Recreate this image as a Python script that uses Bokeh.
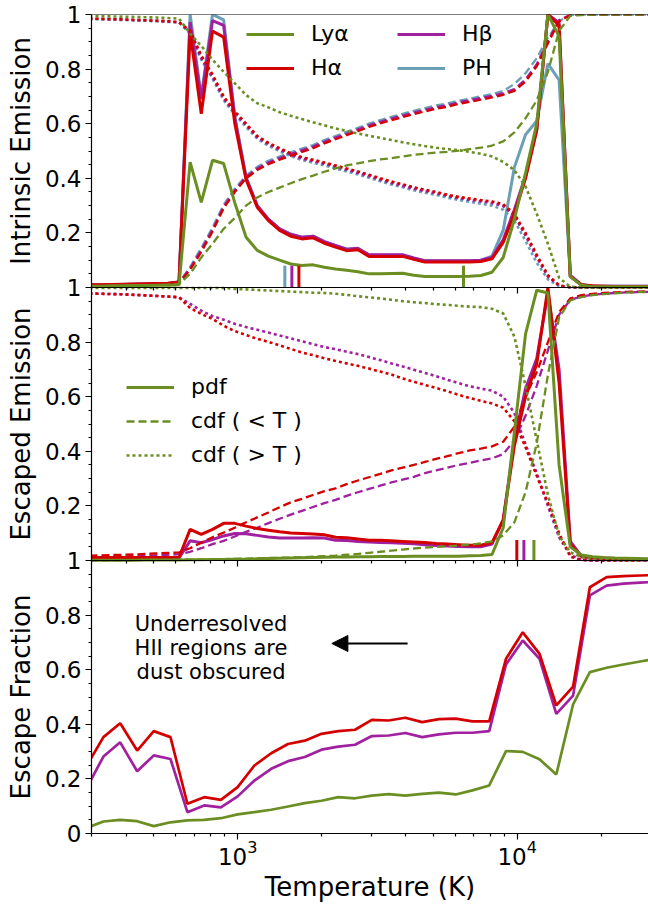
from bokeh.plotting import figure
from bokeh.models import (Range1d, LinearAxis, LogAxis, FixedTicker, Legend, LegendItem, Label,
                          Arrow, NormalHead, Span, CustomJSTickFormatter, ColumnDataSource)
from bokeh.embed import file_html
from bokeh.resources import INLINE

# ---------------- data ----------------
# temperature grid of the intrinsic / escaped panels (K)
T_FINE = [295, 324, 355, 389, 427, 468, 513, 562, 617, 676, 741, 813, 891, 977, 1072, 1175,
          1288, 1413, 1549, 1698, 1862, 2042, 2239, 2455, 2692, 2951, 3236, 3548, 3890, 4266,
          4677, 5129, 5623, 6166, 6761, 7413, 8128, 8913, 9772, 10715, 11749, 12882, 14125,
          15488, 16982, 18621, 20417, 22387, 24547, 26915, 29512]
# temperature grid of the escape-fraction panel (K)
T_COARSE = [288, 331, 380, 437, 501, 575, 661, 759, 871, 1000, 1148, 1318, 1514, 1738, 1995,
            2291, 2630, 3020, 3467, 3981, 4571, 5248, 6026, 6918, 7943, 9120, 10471, 12023,
            13804, 15849, 18197, 20893, 23988, 27542, 31623]

# Intrinsic emission: pdf
I1_PH = [0.009, 0.009, 0.010, 0.011, 0.012, 0.013, 0.014, 0.015, 0.02, 1.0, 0.70, 1.0, 0.98,
         0.625, 0.405, 0.30, 0.25, 0.215, 0.195, 0.184, 0.188, 0.168, 0.153, 0.14, 0.142,
         0.118, 0.118, 0.118, 0.118, 0.107, 0.097, 0.097, 0.097, 0.097, 0.097, 0.10, 0.115,
         0.21, 0.44, 0.56, 0.61, 0.82, 0.76, 0.04, 0.01, 0.005, 0.005, 0.005, 0.005, 0.005, 0.005]
I1_HB = [0.009, 0.009, 0.010, 0.011, 0.012, 0.013, 0.014, 0.015, 0.02, 0.972, 0.69, 0.978, 0.96,
         0.62, 0.40, 0.30, 0.25, 0.215, 0.195, 0.184, 0.188, 0.168, 0.154, 0.14, 0.144, 0.12,
         0.12, 0.12, 0.12, 0.108, 0.098, 0.098, 0.098, 0.098, 0.098, 0.10, 0.11, 0.175, 0.285,
         0.41, 0.58, 1.0, 0.97, 0.045, 0.01, 0.005, 0.005, 0.005, 0.005, 0.005, 0.005]
I1_HA = [0.010, 0.010, 0.011, 0.012, 0.013, 0.014, 0.015, 0.016, 0.02, 0.935, 0.636, 0.939,
         0.917, 0.60, 0.395, 0.294, 0.245, 0.209, 0.188, 0.178, 0.182, 0.162, 0.148, 0.135,
         0.138, 0.114, 0.114, 0.114, 0.114, 0.103, 0.093, 0.093, 0.093, 0.093, 0.093, 0.095,
         0.105, 0.165, 0.27, 0.40, 0.575, 1.0, 0.96, 0.04, 0.01, 0.006, 0.005, 0.004, 0.004,
         0.004, 0.004]
I1_LYA = [0.005, 0.005, 0.006, 0.006, 0.007, 0.007, 0.008, 0.008, 0.01, 0.459, 0.312, 0.466,
          0.454, 0.31, 0.184, 0.136, 0.115, 0.100, 0.086, 0.081, 0.083, 0.074, 0.068, 0.063,
          0.058, 0.050, 0.050, 0.051, 0.052, 0.045, 0.040, 0.040, 0.040, 0.040, 0.041, 0.044,
          0.056, 0.11, 0.25, 0.42, 0.60, 1.0, 0.92, 0.04, 0.008, 0.003, 0.003, 0.003, 0.003,
          0.003, 0.003]
# Intrinsic emission: cdf (<T)
I1_PH_LT = [0.002, 0.003, 0.005, 0.006, 0.008, 0.010, 0.012, 0.014, 0.018, 0.075, 0.145, 0.22,
            0.303, 0.362, 0.41, 0.442, 0.464, 0.48, 0.495, 0.509, 0.522, 0.54, 0.555, 0.57,
            0.585, 0.6, 0.613, 0.625, 0.636, 0.647, 0.657, 0.667, 0.674, 0.684, 0.692, 0.70,
            0.708, 0.72, 0.745, 0.785, 0.84, 0.915, 0.975, 0.998, 1, 1, 1, 1, 1, 1, 1]
I1_HB_LT = [0.002, 0.003, 0.005, 0.006, 0.008, 0.010, 0.012, 0.014, 0.017, 0.07, 0.137, 0.212,
            0.296, 0.356, 0.405, 0.436, 0.458, 0.474, 0.489, 0.503, 0.516, 0.534, 0.549, 0.564,
            0.579, 0.594, 0.607, 0.619, 0.63, 0.641, 0.651, 0.661, 0.668, 0.678, 0.686, 0.694,
            0.702, 0.712, 0.727, 0.762, 0.818, 0.902, 0.98, 0.998, 1, 1, 1, 1, 1, 1, 1]
I1_HA_LT = [0.002, 0.003, 0.005, 0.006, 0.008, 0.010, 0.012, 0.014, 0.016, 0.065, 0.13, 0.205,
            0.29, 0.35, 0.40, 0.43, 0.452, 0.468, 0.483, 0.497, 0.51, 0.528, 0.543, 0.558,
            0.573, 0.588, 0.601, 0.613, 0.624, 0.635, 0.645, 0.655, 0.662, 0.672, 0.68, 0.688,
            0.696, 0.706, 0.72, 0.755, 0.81, 0.895, 0.975, 0.997, 1, 1, 1, 1, 1, 1, 1]
I1_LYA_LT = [0.003, 0.004, 0.005, 0.006, 0.007, 0.008, 0.009, 0.010, 0.012, 0.05, 0.11, 0.16,
             0.215, 0.255, 0.30, 0.33, 0.35, 0.366, 0.382, 0.397, 0.41, 0.424, 0.436, 0.447,
             0.455, 0.463, 0.469, 0.474, 0.48, 0.486, 0.49, 0.494, 0.497, 0.501, 0.507, 0.512,
             0.52, 0.535, 0.568, 0.62, 0.685, 0.79, 0.94, 0.995, 0.998, 1, 1, 1, 1, 1, 1]
# Intrinsic emission: cdf (>T)
I1_PH_GT = [0.983, 0.982, 0.981, 0.980, 0.978, 0.977, 0.975, 0.973, 0.970, 0.93, 0.835, 0.765,
            0.686, 0.633, 0.588, 0.545, 0.519, 0.499, 0.481, 0.467, 0.457, 0.447, 0.436, 0.425,
            0.414, 0.402, 0.389, 0.377, 0.367, 0.356, 0.347, 0.339, 0.329, 0.321, 0.314, 0.307,
            0.30, 0.285, 0.245, 0.17, 0.09, 0.03, 0.005, 0, 0, 0, 0, 0, 0, 0, 0]
I1_HB_GT = [0.985, 0.984, 0.983, 0.982, 0.980, 0.979, 0.977, 0.975, 0.972, 0.935, 0.84, 0.772,
            0.693, 0.64, 0.595, 0.55, 0.525, 0.505, 0.487, 0.472, 0.463, 0.453, 0.442, 0.431,
            0.42, 0.408, 0.395, 0.383, 0.373, 0.362, 0.353, 0.345, 0.335, 0.327, 0.321, 0.315,
            0.309, 0.298, 0.262, 0.19, 0.11, 0.04, 0.007, 0.001, 0, 0, 0, 0, 0, 0, 0]
I1_HA_GT = [0.985, 0.984, 0.983, 0.982, 0.980, 0.979, 0.977, 0.975, 0.972, 0.94, 0.85, 0.78,
            0.70, 0.645, 0.60, 0.555, 0.53, 0.51, 0.492, 0.477, 0.468, 0.458, 0.447, 0.436,
            0.425, 0.413, 0.40, 0.388, 0.378, 0.367, 0.358, 0.35, 0.34, 0.332, 0.326, 0.32,
            0.315, 0.305, 0.27, 0.20, 0.12, 0.045, 0.008, 0.001, 0, 0, 0, 0, 0, 0, 0]
I1_LYA_GT = [0.995, 0.994, 0.993, 0.992, 0.991, 0.99, 0.989, 0.987, 0.985, 0.93, 0.885, 0.835,
             0.79, 0.748, 0.705, 0.675, 0.66, 0.642, 0.629, 0.617, 0.605, 0.594, 0.583, 0.573,
             0.564, 0.556, 0.548, 0.54, 0.532, 0.525, 0.518, 0.512, 0.507, 0.503, 0.497, 0.49,
             0.48, 0.46, 0.43, 0.37, 0.27, 0.16, 0.035, 0.003, 0, 0, 0, 0, 0, 0, 0]

# Escaped emission: pdf
E_HB = [0.008, 0.008, 0.008, 0.008, 0.008, 0.008, 0.008, 0.008, 0.009, 0.072, 0.065, 0.077,
        0.09, 0.099, 0.098, 0.092, 0.086, 0.082, 0.082, 0.082, 0.083, 0.082, 0.074, 0.073,
        0.07, 0.068, 0.066, 0.065, 0.063, 0.061, 0.058, 0.055, 0.053, 0.051, 0.05, 0.05, 0.06,
        0.15, 0.44, 0.63, 0.74, 0.98, 0.70, 0.07, 0.016, 0.01, 0.006, 0.005, 0.004, 0.004, 0.003]
E_HA = [0.011, 0.011, 0.011, 0.011, 0.011, 0.011, 0.011, 0.011, 0.012, 0.114, 0.096, 0.114,
        0.136, 0.136, 0.126, 0.117, 0.111, 0.105, 0.101, 0.099, 0.097, 0.094, 0.085, 0.083,
        0.079, 0.074, 0.074, 0.072, 0.070, 0.068, 0.066, 0.062, 0.060, 0.058, 0.056, 0.056,
        0.066, 0.148, 0.42, 0.60, 0.72, 1.0, 0.65, 0.06, 0.015, 0.01, 0.008, 0.006, 0.005,
        0.004, 0.004]
E_LYA = [0.001, 0.001, 0.001, 0.001, 0.001, 0.002, 0.002, 0.002, 0.002, 0.003, 0.003, 0.004,
         0.004, 0.005, 0.005, 0.006, 0.007, 0.008, 0.009, 0.01, 0.011, 0.012, 0.013, 0.013,
         0.014, 0.014, 0.015, 0.015, 0.015, 0.016, 0.016, 0.016, 0.016, 0.016, 0.017, 0.018,
         0.022, 0.12, 0.47, 0.83, 0.99, 0.98, 0.35, 0.05, 0.02, 0.014, 0.011, 0.009, 0.008,
         0.007, 0.006]
# Escaped emission: cdf (<T)
E_HB_LT = [0.012, 0.013, 0.014, 0.015, 0.016, 0.017, 0.019, 0.021, 0.023, 0.032, 0.045, 0.06,
           0.072, 0.088, 0.105, 0.12, 0.137, 0.153, 0.168, 0.182, 0.196, 0.21, 0.222, 0.237,
           0.25, 0.262, 0.274, 0.286, 0.296, 0.306, 0.32, 0.33, 0.34, 0.35, 0.358, 0.366,
           0.374, 0.39, 0.44, 0.53, 0.64, 0.77, 0.90, 0.955, 0.967, 0.973, 0.977, 0.98, 0.982,
           0.983, 0.984]
E_HA_LT = [0.018, 0.019, 0.020, 0.021, 0.022, 0.024, 0.026, 0.028, 0.03, 0.045, 0.065, 0.085,
           0.102, 0.12, 0.14, 0.158, 0.176, 0.195, 0.213, 0.226, 0.24, 0.254, 0.264, 0.28,
           0.293, 0.305, 0.317, 0.33, 0.34, 0.35, 0.361, 0.372, 0.382, 0.393, 0.403, 0.41,
           0.418, 0.435, 0.49, 0.60, 0.69, 0.80, 0.91, 0.96, 0.972, 0.977, 0.98, 0.982, 0.984,
           0.985, 0.986]
E_LYA_LT = [0.0, 0.0, 0.001, 0.001, 0.001, 0.002, 0.002, 0.002, 0.003, 0.003, 0.004, 0.004,
            0.005, 0.006, 0.007, 0.008, 0.009, 0.01, 0.011, 0.012, 0.014, 0.016, 0.018, 0.021,
            0.024, 0.028, 0.032, 0.036, 0.04, 0.044, 0.047, 0.05, 0.052, 0.055, 0.058, 0.063,
            0.07, 0.092, 0.14, 0.25, 0.43, 0.68, 0.89, 0.953, 0.965, 0.972, 0.976, 0.979, 0.981,
            0.983, 0.984]
# Escaped emission: cdf (>T)
E_HB_GT = [0.978, 0.977, 0.976, 0.975, 0.973, 0.971, 0.969, 0.967, 0.964, 0.94, 0.915, 0.895,
           0.882, 0.867, 0.855, 0.845, 0.835, 0.824, 0.814, 0.803, 0.792, 0.782, 0.774, 0.765,
           0.756, 0.745, 0.734, 0.722, 0.711, 0.699, 0.687, 0.675, 0.662, 0.65, 0.638, 0.63,
           0.622, 0.60, 0.54, 0.425, 0.32, 0.20, 0.085, 0.02, 0.003, 0, 0, 0, 0, 0, 0]
E_HA_GT = [0.978, 0.977, 0.976, 0.975, 0.973, 0.971, 0.969, 0.967, 0.964, 0.925, 0.903, 0.885,
           0.86, 0.84, 0.826, 0.812, 0.801, 0.788, 0.775, 0.762, 0.752, 0.741, 0.731, 0.722,
           0.713, 0.703, 0.692, 0.681, 0.667, 0.655, 0.643, 0.632, 0.62, 0.607, 0.595, 0.585,
           0.575, 0.56, 0.51, 0.415, 0.31, 0.21, 0.10, 0.014, 0.002, 0, 0, 0, 0, 0, 0]
E_LYA_GT = [0.998, 0.998, 0.998, 0.998, 0.998, 0.998, 0.998, 0.998, 0.998, 0.998, 0.998, 0.998,
            0.998, 0.995, 0.993, 0.991, 0.989, 0.987, 0.985, 0.983, 0.981, 0.98, 0.977, 0.973,
            0.968, 0.964, 0.96, 0.955, 0.95, 0.946, 0.943, 0.939, 0.936, 0.933, 0.93, 0.928,
            0.922, 0.905, 0.82, 0.64, 0.44, 0.24, 0.09, 0.03, 0.012, 0.005, 0.002, 0.001, 0, 0, 0]

# Escape fraction
F_HB = [0.166, 0.282, 0.334, 0.228, 0.286, 0.273, 0.078, 0.103, 0.096, 0.136, 0.194, 0.237,
        0.265, 0.280, 0.307, 0.318, 0.325, 0.357, 0.359, 0.368, 0.353, 0.363, 0.369, 0.369,
        0.375, 0.619, 0.707, 0.640, 0.438, 0.505, 0.872, 0.908, 0.915, 0.919, 0.922]
F_HA = [0.247, 0.353, 0.404, 0.304, 0.375, 0.353, 0.109, 0.133, 0.123, 0.170, 0.249, 0.294,
        0.328, 0.340, 0.365, 0.375, 0.380, 0.416, 0.414, 0.424, 0.408, 0.419, 0.421, 0.411,
        0.411, 0.640, 0.737, 0.658, 0.469, 0.538, 0.902, 0.939, 0.943, 0.945, 0.947]
F_LYA = [0.020, 0.044, 0.050, 0.045, 0.027, 0.041, 0.048, 0.050, 0.056, 0.070, 0.078, 0.087,
         0.099, 0.111, 0.120, 0.133, 0.129, 0.139, 0.144, 0.139, 0.145, 0.150, 0.143, 0.158,
         0.176, 0.302, 0.299, 0.272, 0.216, 0.473, 0.591, 0.607, 0.619, 0.630, 0.640]

# median-temperature markers
MED1_T = [1475, 1563, 1656, 6427]          # PH, Hbeta, Halpha, Lyalpha (intrinsic)
MED2_T = [9970, 10570, 11480]              # Halpha, Hbeta, Lyalpha (escaped)
MED1_H = 0.08
MED2_H = 0.075

# annotation
NOTE_LINES = ["Underresolved", "HII regions are", "dust obscured"]
NOTE_T = 803
NOTE_Y = [0.769, 0.678, 0.590]
ARROW_T = (4055, 2173)
ARROW_Y = 0.696

# axes (the three panels are stacked: escape fraction 0-1, escaped 1-2, intrinsic 2-3)
X_START, X_END = 300, 29500
X_MAJOR = [1000, 10000]
X_MINOR = [300, 400, 500, 600, 700, 800, 900, 2000, 3000, 4000, 5000, 6000, 7000, 8000,
           9000, 20000]
Y_MAJOR = [0, 0.2, 0.4, 0.6, 0.8, 1, 1.2, 1.4, 1.6, 1.8, 2, 2.2, 2.4, 2.6, 2.8, 3]
Y_MINOR = [round(i * 0.05, 2) for i in range(61) if i % 4]
PANEL_LABELS = {0.5: "Escape Fraction", 1.5: "Escaped Emission", 2.5: "Intrinsic Emission"}

# ---------------- style ----------------
FONT = "DejaVu Sans"
GREEN = "#6B8E23"
RED = "#D40000"
PURPLE = "#A020A0"
BLUE = "#6A9FB5"
DASH = "8 4"
DOT = "3 3"
AX_W = 1.2

p = figure(width=648, height=905, x_axis_type="log", x_range=Range1d(X_START, X_END),
           y_range=Range1d(0, 3), output_backend="svg", toolbar_location=None,
           min_border=0, min_border_left=91, min_border_top=14, min_border_right=0,
           min_border_bottom=72)
p.extra_y_ranges = {"p1": Range1d(-2, 1), "p2": Range1d(-1, 2)}
p.outline_line_color = None
p.xgrid.visible = False
p.ygrid.visible = False
p.background_fill_color = "white"
p.border_fill_color = "white"

# y axis with the tick values of every panel
yax = p.yaxis[0]
yax.ticker = FixedTicker(ticks=Y_MAJOR, minor_ticks=Y_MINOR)
yax.formatter = CustomJSTickFormatter(code="""
    if (Math.abs(tick) < 1e-9) return "0";
    const r = tick - Math.floor(tick + 1e-9);
    if (Math.abs(r) < 1e-6) return "1";
    return r.toFixed(1);
""")
yax.major_tick_out = 6
yax.major_tick_in = 0
yax.minor_tick_out = 3
yax.minor_tick_in = 0
yax.axis_line_width = AX_W
yax.major_tick_line_width = AX_W
yax.minor_tick_line_width = AX_W
yax.major_label_text_font = FONT
yax.major_label_text_font_size = "23px"
yax.major_label_text_color = "black"
yax.major_label_standoff = 4

# outer axis carrying the three panel titles
lab_ax = LinearAxis(ticker=FixedTicker(ticks=list(PANEL_LABELS.keys())),
                    major_label_overrides=PANEL_LABELS, major_label_orientation="parallel",
                    major_tick_out=0, major_tick_in=0, minor_tick_out=0, minor_tick_in=0,
                    axis_line_color=None, major_label_text_font=FONT,
                    major_label_text_font_size="26px", major_label_text_color="black",
                    major_label_standoff=6)
p.add_layout(lab_ax, "left")

# bottom x axis
xax = p.xaxis[0]
xax.ticker = FixedTicker(ticks=X_MAJOR, minor_ticks=X_MINOR)
xax.major_tick_out = 6
xax.major_tick_in = 0
xax.minor_tick_out = 3
xax.minor_tick_in = 0
xax.axis_line_width = AX_W
xax.major_tick_line_width = AX_W
xax.minor_tick_line_width = AX_W
xax.major_label_text_font = FONT
xax.major_label_text_font_size = "23px"
xax.major_label_text_color = "black"
xax.major_label_standoff = 0
xax.axis_label = "Temperature (K)"
xax.axis_label_text_font = FONT
xax.axis_label_text_font_size = "26px"
xax.axis_label_text_font_style = "normal"
xax.axis_label_text_color = "black"
xax.axis_label_standoff = 4

# panel boundaries with outward ticks
for loc in (1, 2):
    ax = LogAxis(ticker=FixedTicker(ticks=X_MAJOR, minor_ticks=X_MINOR), fixed_location=loc,
                 formatter=CustomJSTickFormatter(code="return ''"),
                 major_tick_out=6, major_tick_in=0, minor_tick_out=3, minor_tick_in=0,
                 axis_line_width=AX_W, major_tick_line_width=AX_W, minor_tick_line_width=AX_W,
                 major_label_text_font_size="0px", major_label_standoff=0)
    p.add_layout(ax, "below")
p.add_layout(Span(location=3, dimension="width", line_color="black", line_width=AX_W))


def ln(xs, ys, color, width, dash=None, rng=None):
    kw = dict(line_color=color, line_width=width)
    if dash:
        kw["line_dash"] = dash
    if rng:
        kw["y_range_name"] = rng
    return p.line(xs, ys, **kw)


# ---- panel 1 : intrinsic emission ----
W_PDF, W_DASH, W_DOT = 3, 2.3, 2.6
r1 = {}
for key, pdf, lt, gt, col in [("PH", I1_PH, I1_PH_LT, I1_PH_GT, BLUE),
                              ("HB", I1_HB, I1_HB_LT, I1_HB_GT, PURPLE),
                              ("HA", I1_HA, I1_HA_LT, I1_HA_GT, RED),
                              ("LYA", I1_LYA, I1_LYA_LT, I1_LYA_GT, GREEN)]:
    r1[key] = ln(T_FINE, pdf, col, W_PDF, rng="p1")
    ln(T_FINE, lt, col, W_DASH, DASH, "p1")
    ln(T_FINE, gt, col, W_DOT, DOT, "p1")

src_m1 = ColumnDataSource(dict(t=MED1_T, y0=[0] * 4, y1=[MED1_H] * 4,
                               c=[BLUE, PURPLE, RED, GREEN]))
p.segment(x0="t", y0="y0", x1="t", y1="y1", line_color="c", line_width=3, source=src_m1,
          y_range_name="p1")

# ---- panel 2 : escaped emission ----
r2 = {}
for key, pdf, lt, gt, col in [("HB", E_HB, E_HB_LT, E_HB_GT, PURPLE),
                              ("HA", E_HA, E_HA_LT, E_HA_GT, RED),
                              ("LYA", E_LYA, E_LYA_LT, E_LYA_GT, GREEN)]:
    a = ln(T_FINE, pdf, col, W_PDF, rng="p2")
    b = ln(T_FINE, lt, col, W_DASH, DASH, "p2")
    c = ln(T_FINE, gt, col, W_DOT, DOT, "p2")
    r2[key] = (a, b, c)

src_m2 = ColumnDataSource(dict(t=MED2_T, y0=[0] * 3, y1=[MED2_H] * 3, c=[RED, PURPLE, GREEN]))
p.segment(x0="t", y0="y0", x1="t", y1="y1", line_color="c", line_width=3, source=src_m2,
          y_range_name="p2")

# ---- panel 3 : escape fraction ----
ln(T_COARSE, F_HB, PURPLE, 2.7)
ln(T_COARSE, F_HA, RED, 2.7)
ln(T_COARSE, F_LYA, GREEN, 2.7)

for txt, yy in zip(NOTE_LINES, NOTE_Y):
    p.add_layout(Label(x=NOTE_T, y=yy, text=txt, text_align="center",
                       text_baseline="alphabetic", text_font=FONT, text_font_size="21px",
                       text_color="black"))
p.add_layout(Arrow(end=NormalHead(size=16, fill_color="black", line_color="black"),
                   x_start=ARROW_T[0], y_start=ARROW_Y, x_end=ARROW_T[1], y_end=ARROW_Y,
                   line_color="black", line_width=2))

# ---- legends ----
leg_common = dict(border_line_color=None, background_fill_alpha=0, padding=0, margin=0,
                  label_text_font=FONT, label_text_font_size="22px",
                  label_text_color="black", glyph_width=48, glyph_height=20,
                  label_standoff=17, label_height=20)
leg1 = Legend(items=[LegendItem(label="Lyα", renderers=[r1["LYA"]]),
                     LegendItem(label="Hα", renderers=[r1["HA"]]),
                     LegendItem(label="Hβ", renderers=[r1["HB"]]),
                     LegendItem(label="PH", renderers=[r1["PH"]])],
              ncols=2, location=(155, 753), spacing=9, label_width=77, **leg_common)
p.add_layout(leg1)

leg2 = Legend(items=[LegendItem(label="pdf", renderers=[r2["LYA"][0]]),
                     LegendItem(label="cdf ( < T )", renderers=[r2["LYA"][1]]),
                     LegendItem(label="cdf ( > T )", renderers=[r2["LYA"][2]])],
              location=(35, 366), spacing=9, **leg_common)
p.add_layout(leg2)

open("out.html", "w").write(file_html(p, INLINE))
